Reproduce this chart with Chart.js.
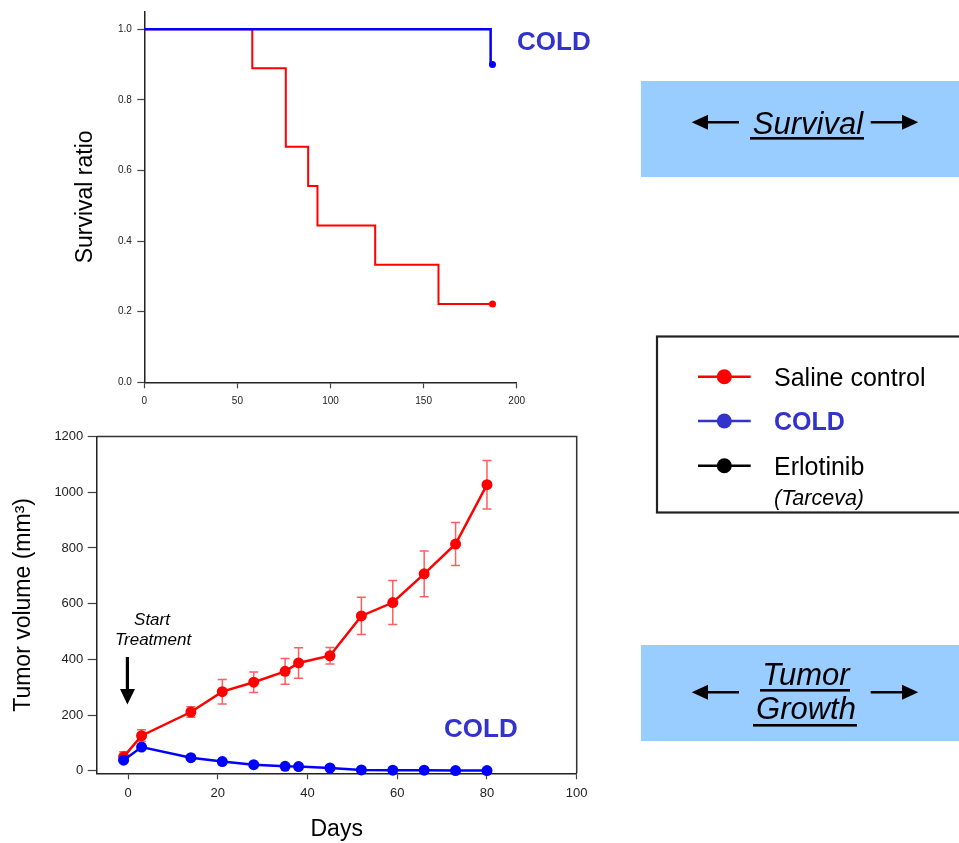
<!DOCTYPE html>
<html>
<head>
<meta charset="utf-8">
<script src="https://cdn.jsdelivr.net/npm/chart.js@4.4.1/dist/chart.umd.min.js"></script>
<style>
	html, body { margin: 0; padding: 0; background: #fff; }
	body { width: 959px; height: 843px; position: relative; overflow: hidden; }
	canvas { position: absolute; left: 0; }
	#survivalChart { top: 0; }
	#tumorChart { top: 420px; }
	#notes { position: absolute; left: 0; top: 0; }
</style>
</head>
<body>
<canvas id="survivalChart" width="600" height="420"></canvas>
<canvas id="tumorChart" width="600" height="423"></canvas>

<svg id="notes" width="959" height="843" font-family="'Liberation Sans', Arial, sans-serif">
	<!-- labels on the charts -->
	<text x="517" y="49.5" font-size="26" font-weight="bold" fill="#3333cc">COLD</text>
	<text x="444" y="736.5" font-size="26" font-weight="bold" fill="#3333cc">COLD</text>
	<text x="152" y="625" font-size="17" font-style="italic" text-anchor="middle">Start</text>
	<text x="153" y="645" font-size="17" font-style="italic" text-anchor="middle">Treatment</text>
	<rect x="125.8" y="657" width="3.2" height="33" fill="#000"/>
	<polygon points="120,689 135,689 127.4,704.5" fill="#000"/>

	<!-- survival box -->
	<rect x="641" y="81" width="318" height="96" fill="#99ccff"/>
	<line x1="700" y1="122.3" x2="739" y2="122.3" stroke="#000" stroke-width="2.5"/>
	<polygon points="691.7,122.3 708,114.8 708,129.8" fill="#000"/>
	<text x="808" y="134" font-size="31" font-style="italic" text-anchor="middle">Survival</text>
	<rect x="750" y="137" width="114" height="2.6" fill="#000"/>
	<line x1="870.7" y1="122.3" x2="910" y2="122.3" stroke="#000" stroke-width="2.5"/>
	<polygon points="918.3,122.3 902,114.8 902,129.8" fill="#000"/>

	<!-- legend -->
	<rect x="657" y="336.5" width="320" height="176" fill="#fff" stroke="#222" stroke-width="2.2"/>
	<line x1="698" y1="376.7" x2="750.7" y2="376.7" stroke="#ff0000" stroke-width="2.5"/>
	<circle cx="724.3" cy="376.7" r="7.5" fill="#ff0000"/>
	<text x="774" y="385.5" font-size="25">Saline control</text>
	<line x1="698" y1="421" x2="750.7" y2="421" stroke="#3333cc" stroke-width="2.5"/>
	<circle cx="724.3" cy="421" r="7.5" fill="#3333cc"/>
	<text x="774" y="430" font-size="25" font-weight="bold" fill="#3333cc">COLD</text>
	<line x1="698" y1="465.7" x2="750.7" y2="465.7" stroke="#000" stroke-width="2.5"/>
	<circle cx="724.3" cy="465.7" r="7.5" fill="#000"/>
	<text x="774" y="474.5" font-size="25">Erlotinib</text>
	<text x="774" y="505" font-size="21.5" font-style="italic">(Tarceva)</text>

	<!-- tumor growth box -->
	<rect x="641" y="645" width="318" height="96" fill="#99ccff"/>
	<line x1="700" y1="692.3" x2="739" y2="692.3" stroke="#000" stroke-width="2.5"/>
	<polygon points="691.7,692.3 708,684.8 708,699.8" fill="#000"/>
	<text x="806" y="685" font-size="31" font-style="italic" text-anchor="middle">Tumor</text>
	<rect x="760" y="689" width="90" height="2.6" fill="#000"/>
	<text x="806" y="718.5" font-size="31" font-style="italic" text-anchor="middle">Growth</text>
	<rect x="753" y="724" width="104" height="2.6" fill="#000"/>
	<line x1="870.7" y1="692.3" x2="910" y2="692.3" stroke="#000" stroke-width="2.5"/>
	<polygon points="918.3,692.3 902,684.8 902,699.8" fill="#000"/>
</svg>

<script>
// Kaplan-Meier survival
const survDaysSaline = [0, 58, 76, 88, 93, 124, 158, 187];
const survSaline = [1.0, 0.889, 0.667, 0.556, 0.444, 0.333, 0.222, 0.222];
const survDaysCold = [0, 186, 187];
const survCold = [1.0, 0.9, 0.9];
const survXTicks = [0, 50, 100, 150, 200];
const survYTicks = [0, 0.2, 0.4, 0.6, 0.8, 1.0];

// tumour volume (mm3) with SEM for the saline group
const tumorDays = [-1, 3, 14, 21, 28, 35, 38, 45, 52, 59, 66, 73, 80];
const salineVolume = [50, 126, 211, 284, 318, 357, 387, 413, 556, 604, 707, 814, 1027];
const salineSem = [18, 21, 19, 44, 37, 46, 55, 30, 67, 79, 82, 77, 87];
const coldVolume = [38, 85, 47, 33, 22, 16, 15, 10, 3, 2, 2, 1, 1];
const tumorXTicks = [0, 20, 40, 60, 80, 100];
const tumorYTicks = [0, 200, 400, 600, 800, 1000, 1200];

const RED = '#ff0000';
const BLUE = '#0000ff';
const FONT = "'Liberation Sans', Arial, sans-serif";

Chart.defaults.font.family = FONT;
Chart.defaults.color = '#222';

const toPoints = (xs, ys) => xs.map((x, i) => ({ x, y: ys[i] }));
const lastOnly = r => ctx => ctx.dataIndex === ctx.dataset.data.length - 1 ? r : 0;

function axis(opts) {
	return {
		type: 'linear',
		min: opts.min,
		max: opts.max,
		afterBuildTicks: s => { s.ticks = opts.ticks.map(value => ({ value })); },
		afterFit: opts.fit,
		border: { color: '#222', width: 1.5 },
		grid: { drawOnChartArea: false, drawTicks: true, tickLength: opts.tickLength, tickColor: '#444', tickWidth: 1.2 },
		ticks: {
			font: { size: opts.fontSize },
			color: '#222',
			padding: opts.padding,
			autoSkip: false,
			maxRotation: 0,
			callback: opts.format || (v => v),
		},
		title: opts.title ? {
			display: true,
			text: opts.title,
			color: '#000',
			font: { size: 23, lineHeight: 1.2 },
			padding: { top: 4, bottom: 0 },
		} : { display: false },
	};
}

// 'before' = run flat to the next event day, then drop
new Chart(document.getElementById('survivalChart'), {
	type: 'line',
	data: {
		datasets: [
			{
				data: toPoints(survDaysCold, survCold),
				borderColor: BLUE,
				backgroundColor: BLUE,
				borderWidth: 2.5,
				stepped: 'before',
				pointRadius: lastOnly(3.5),
				pointBorderWidth: 0,
				clip: false,
			},
			{
				data: toPoints(survDaysSaline, survSaline),
				borderColor: RED,
				backgroundColor: RED,
				borderWidth: 2,
				stepped: 'before',
				pointRadius: lastOnly(3.5),
				pointBorderWidth: 0,
				clip: false,
			},
		],
	},
	options: {
		responsive: false,
		animation: false,
		devicePixelRatio: 1,
		layout: { padding: { left: 68, top: 9.3, right: 83.3, bottom: 0 } },
		plugins: { legend: { display: false }, tooltip: { enabled: false } },
		scales: {
			x: axis({ min: 0, max: 200, ticks: survXTicks, tickLength: 6, fontSize: 10, padding: 7,
				fit: s => { s.height = 37.7; } }),
			y: axis({ min: 0, max: 1.05, ticks: survYTicks, tickLength: 7, fontSize: 10, padding: 5.5,
				format: v => v.toFixed(1), title: 'Survival ratio',
				fit: s => { s.width = 76.3; } }),
		},
	},
});

const errorBars = {
	id: 'errorBars',
	beforeDatasetsDraw(chart) {
		const { ctx, scales: { x, y } } = chart;
		ctx.save();
		ctx.strokeStyle = 'rgba(255,40,40,0.75)';
		ctx.lineWidth = 1.5;
		tumorDays.forEach((d, i) => {
			const px = x.getPixelForValue(d);
			const hi = y.getPixelForValue(salineVolume[i] + salineSem[i]);
			const lo = y.getPixelForValue(salineVolume[i] - salineSem[i]);
			ctx.beginPath();
			ctx.moveTo(px, hi); ctx.lineTo(px, lo);
			ctx.moveTo(px - 4.5, hi); ctx.lineTo(px + 4.5, hi);
			ctx.moveTo(px - 4.5, lo); ctx.lineTo(px + 4.5, lo);
			ctx.stroke();
		});
		ctx.restore();
	},
};

// closes the box on the top and right of the lower plot
const frame = {
	id: 'frame',
	beforeDatasetsDraw(chart) {
		const { ctx, chartArea: a } = chart;
		ctx.save();
		ctx.strokeStyle = '#333';
		ctx.lineWidth = 1.5;
		ctx.beginPath();
		ctx.moveTo(a.left, a.top);
		ctx.lineTo(a.right, a.top);
		ctx.lineTo(a.right, a.bottom);
		ctx.stroke();
		ctx.restore();
	},
};

new Chart(document.getElementById('tumorChart'), {
	type: 'line',
	data: {
		datasets: [
			{
				label: 'COLD',
				data: toPoints(tumorDays, coldVolume),
				borderColor: BLUE,
				backgroundColor: BLUE,
				borderWidth: 2.5,
				pointRadius: 5.5,
				pointBorderWidth: 0,
				order: 0,
				clip: false,
			},
			{
				label: 'Saline control',
				data: toPoints(tumorDays, salineVolume),
				borderColor: RED,
				backgroundColor: RED,
				borderWidth: 2.5,
				pointRadius: 5.5,
				pointBorderWidth: 0,
				order: 1,
				clip: false,
			},
		],
	},
	plugins: [frame, errorBars],
	options: {
		responsive: false,
		animation: false,
		devicePixelRatio: 1,
		layout: { padding: { left: 6, top: 16.5, right: 23.3, bottom: 0 } },
		plugins: { legend: { display: false }, tooltip: { enabled: false } },
		scales: {
			x: axis({ min: -7, max: 100, ticks: tumorXTicks, tickLength: 6, fontSize: 13, padding: 6,
				title: 'Days', fit: s => { s.height = 69.7; } }),
			y: axis({ min: -9, max: 1200, ticks: tumorYTicks, tickLength: 9, fontSize: 13, padding: 4.4,
				title: 'Tumor volume (mm³)', fit: s => { s.width = 90.7; } }),
		},
	},
});
</script>
</body>
</html>
